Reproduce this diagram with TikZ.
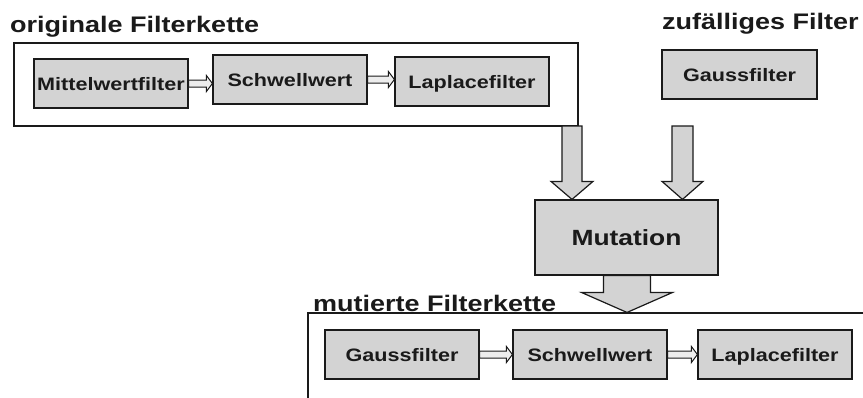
\documentclass[tikz,border=0pt]{standalone}
\usepackage{fontspec}
\setmainfont{Liberation Sans}[FakeStretch=1.2]
\usetikzlibrary{calc}
\definecolor{boxgray}{HTML}{D3D3D3}
\definecolor{ink}{HTML}{1A1A1A}
\tikzset{
  filterbox/.style={draw=ink, fill=boxgray, line width=1.2pt, inner sep=0pt,
    minimum width=154pt, minimum height=49pt, text=ink,
    font=\fontsize{18}{20}\selectfont\bfseries, text height=13pt, text depth=0pt},
  outerbox/.style={draw=ink, line width=1.1pt, inner sep=0pt},
  titletext/.style={anchor=base west, inner sep=0pt, text=ink,
    font=\fontsize{22.5}{24}\selectfont\bfseries},
  smallarr/.style={draw=ink, fill=boxgray!40, line width=1pt, line join=miter},
  bigarr/.style={draw=ink, fill=boxgray, line width=1.2pt, line join=miter}
}
% horizontal small double-line arrow from east of #1 to west of #2
\newcommand\hblock[2]{%
  \filldraw[smallarr] let \p1=(#1.east), \p2=(#2.west) in
    (\x1,\y1-3.5pt) -- (\x2-6pt,\y1-3.5pt) -- (\x2-6pt,\y1-8pt) -- (\x2,\y1)
    -- (\x2-6pt,\y1+8pt) -- (\x2-6pt,\y1+3.5pt) -- (\x1,\y1+3.5pt) -- cycle;}
% vertical block arrow from #1 down to #2; shaft half #3, head half #4, head length #5
\newcommand\vblock[5]{%
  \filldraw[bigarr] let \p1=(#1), \p2=(#2) in
    (\x1-#3,\y1) -- (\x1-#3,\y2+#5) -- (\x1-#4,\y2+#5) -- (\x1,\y2)
    -- (\x1+#4,\y2+#5) -- (\x1+#3,\y2+#5) -- (\x1+#3,\y1) -- cycle;}
\begin{document}
\begin{tikzpicture}[x=1pt, y=-1pt]
\clip (0,0) rectangle (863,397);
\fill[white] (0,0) rectangle (863,397);

% titles
\node[titletext] (t1) at (10,32) {originale Filterkette};
\node[titletext] (t2) at (662,29) {zufälliges Filter};
\node[titletext] (t3) at (313,311) {mutierte Filterkette};

% outer boxes
\node[outerbox, minimum width=564pt, minimum height=83pt] (orig) at (296,84.5) {};
\node[outerbox, minimum width=600pt, minimum height=130pt] (mutbox) at (608,378) {};

% original chain
\node[filterbox] (m1) at (111,83.5) {Mittelwertfilter};
\node[filterbox] (s1) at (290,79.5) {Schwellwert};
\node[filterbox] (l1) at (472,81.5) {Laplacefilter};
\hblock{m1}{s1}
\hblock{s1}{l1}

% random filter
\node[filterbox, minimum width=155pt] (g0) at (739.5,74.5) {Gaussfilter};

% mutation
\node[filterbox, minimum width=183pt, minimum height=75pt,
      font=\fontsize{22}{24}\selectfont\bfseries, text height=16pt] (mut) at (626.5,237.5) {Mutation};

\coordinate (la) at (572,126);
\coordinate (ra) at (682.5,126);
\vblock{la}{la |- mut.north}{10pt}{21pt}{18pt}
\vblock{ra}{ra |- mut.north}{10.5pt}{20.5pt}{18pt}
\coordinate (ba) at (627,275);
\vblock{mut.south -| ba}{ba |- mutbox.north}{23.5pt}{45.5pt}{20pt}

% mutated chain
\node[filterbox] (g2) at (402,354.5) {Gaussfilter};
\node[filterbox] (s2) at (590,354.5) {Schwellwert};
\node[filterbox] (l2) at (775,354.5) {Laplacefilter};
\hblock{g2}{s2}
\hblock{s2}{l2}
\end{tikzpicture}
\end{document}
